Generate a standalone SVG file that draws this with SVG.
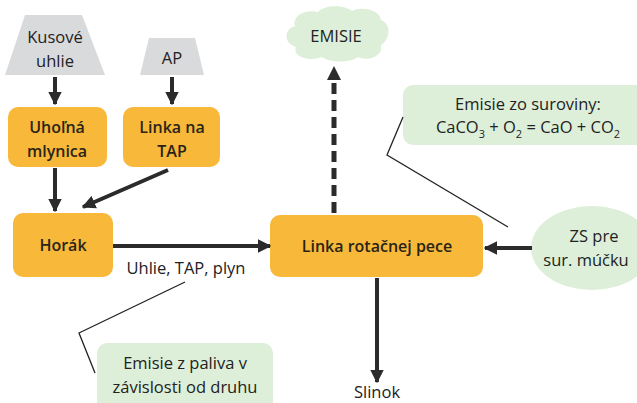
<svg xmlns="http://www.w3.org/2000/svg" width="637" height="403" viewBox="0 0 637 403">
<defs>
<marker id="ah" viewBox="0 0 10 10" refX="9" refY="5" markerWidth="3.4" markerHeight="3.4" orient="auto" markerUnits="strokeWidth">
<path d="M0,0 L10,5 L0,10 z" fill="#2b2b2b"/>
</marker>
<style>
text{font-family:"Open Sans","Liberation Sans",sans-serif;font-size:16.5px;fill:#222;text-anchor:middle}
.lbl{font-weight:600;font-size:16px;fill:#2a2418}
.box{fill:#F8B83A}
.gray{fill:#D9DADC}
.green{fill:#DDEFD8}
.arr{stroke:#2b2b2b;stroke-width:4;fill:none;marker-end:url(#ah)}
.call{stroke:#222;stroke-width:1.3;fill:none}
</style>
</defs>
<rect width="637" height="403" fill="#fff"/>
<g id="kusove">
<polygon class="gray" points="25,15 82,15 105,75 5,75"/>
<text x="55" y="43">Kusové</text>
<text x="55" y="67">uhlie</text>
</g>
<g id="ap">
<polygon class="gray" points="149,38 195,38 204,75 140,75"/>
<text x="172" y="64">AP</text>
</g>
<g id="mlynica">
<rect class="box" x="8" y="107" width="99" height="60" rx="10"/>
<text class="lbl" x="57" y="133">Uhoľná</text>
<text class="lbl" x="57" y="157">mlynica</text>
</g>
<g id="tap">
<rect class="box" x="123" y="107" width="97" height="60" rx="10"/>
<text class="lbl" x="172" y="133">Linka na</text>
<text class="lbl" x="172" y="157">TAP</text>
</g>
<g id="horak">
<rect class="box" x="13" y="213" width="100" height="64" rx="10"/>
<text class="lbl" x="63" y="251">Horák</text>
</g>
<g id="pec">
<rect class="box" x="270" y="215" width="213" height="62" rx="10"/>
<text class="lbl" x="377" y="252">Linka rotačnej pece</text>
</g>
<g id="emisie">
<path class="green" d="M295,26 C292,14 308,9 318,12 C325,4 345,5 352,11 C362,6 380,10 381,20 C392,24 390,40 381,45 C384,56 368,62 358,57 C350,63 330,63 322,57 C310,62 292,57 296,47 C283,43 284,29 295,26 z"/>
<text x="336" y="42">EMISIE</text>
</g>
<g id="suroviny">
<rect class="green" x="403" y="85" width="250" height="60" rx="10"/>
<text x="528" y="110">Emisie zo suroviny:</text>
<text x="528" y="133">CaCO<tspan font-size="11" dy="5">3</tspan><tspan dy="-5"> + O</tspan><tspan font-size="11" dy="5">2</tspan><tspan dy="-5"> = CaO + CO</tspan><tspan font-size="11" dy="5">2</tspan></text>
</g>
<g id="zs">
<ellipse class="green" cx="592" cy="248" rx="61" ry="42"/>
<text x="594" y="242">ZS pre</text>
<text x="586" y="266">sur. múčku</text>
</g>
<g id="paliva">
<rect class="green" x="97" y="343" width="176" height="70" rx="10"/>
<text x="185" y="369">Emisie z paliva v</text>
<text x="185" y="393">závislosti od druhu</text>
</g>
<g id="connectors">
<line class="arr" x1="55" y1="77" x2="55" y2="104"/>
<line class="arr" x1="172" y1="77" x2="172" y2="104"/>
<line class="arr" x1="55" y1="168" x2="55" y2="211"/>
<line class="arr" x1="168" y1="170" x2="83" y2="207"/>
<line class="arr" x1="113" y1="246" x2="270" y2="246"/>
<line class="arr" x1="532" y1="248" x2="485" y2="248"/>
<line class="arr" x1="377" y1="278" x2="377" y2="382"/>
<line stroke="#2b2b2b" stroke-width="5" stroke-dasharray="11,6" x1="334" y1="213" x2="334" y2="82"/>
<polygon points="334,66 327,80 341,80" fill="#2b2b2b"/>
<polyline class="call" points="403,117 387,155 508,227"/>
<polyline class="call" points="185,282 79,333 95,373"/>
<text x="186" y="274">Uhlie, TAP, plyn</text>
<text x="377" y="398">Slinok</text>
</g>
</svg>
